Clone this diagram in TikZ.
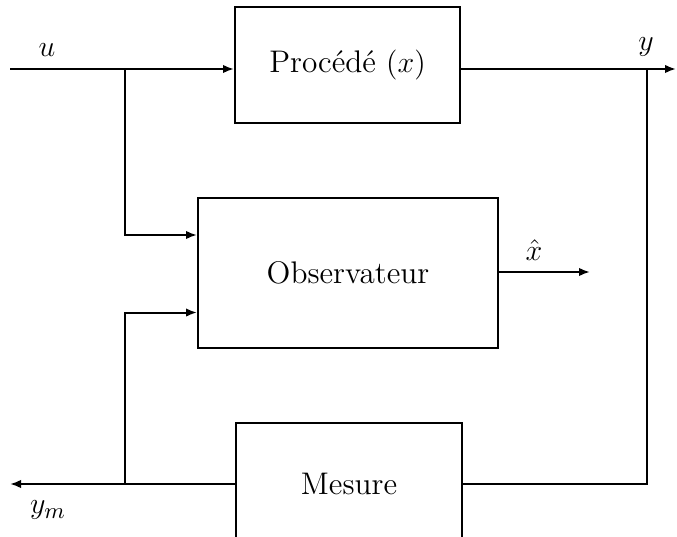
\documentclass[tikz,border=0pt]{standalone}
\usepackage{amsmath}
\usepackage{tikz}
\usetikzlibrary{arrows.meta, positioning, calc}

\begin{document}
\begin{tikzpicture}[
    x=0.4pt, y=-0.4pt,
    block/.style={rectangle, draw=black, line width=0.8pt, align=center, font=\fontsize{12.5}{15}\selectfont},
    wire/.style={line width=0.8pt},
    arr/.style={wire, -{Latex[length=4.4pt, width=3.4pt]}},
    sig/.style={font=\fontsize{12.5}{15}\selectfont},
  ]
  \useasboundingbox (0,0) rectangle (677,537);
  \clip (0,0) rectangle (677,537);

  % Blocks
  \node[block, minimum width=90pt, minimum height=46.4pt] (proc) at (347.5,65) {Proc\'ed\'e $(x)$};
  \node[block, minimum width=120pt, minimum height=60pt] (obs) at (348,273) {Observateur};
  \node[block, minimum width=90.4pt, minimum height=48.8pt] (mes) at (349,484) {Mesure};

  % Points on the wires
  \coordinate (uin) at (10,69);
  \coordinate (yout) at (676,69);
  \coordinate (bu) at (125,69);
  \coordinate (by) at (647,69);
  \coordinate (bm) at (125,484);
  \coordinate (ymout) at (10,484);
  \coordinate (xhout) at (590,272);

  % Labels
  \node[sig] (lu) at (47,50) {$u$};
  \node[sig] (ly) at (646,47) {$y$};
  \node[sig] (lxh) at (534,250) {$\hat{x}$};
  \node[sig] (lym) at (48,510) {$y_m$};

  % Wires
  \draw[arr] (uin) -- (uin -| proc.west);
  \draw[arr] (uin -| proc.east) -- (yout);
  \draw[wire] (by) |- (mes.east);
  \draw[arr] (mes.west) -- (ymout);
  \draw[arr] (bu) |- ($(obs.north west)!0.25!(obs.south west)$);
  \draw[arr] (bm) |- ($(obs.north west)!0.76!(obs.south west)$);
  \draw[arr] (obs.east |- xhout) -- (xhout);
\end{tikzpicture}
\end{document}
